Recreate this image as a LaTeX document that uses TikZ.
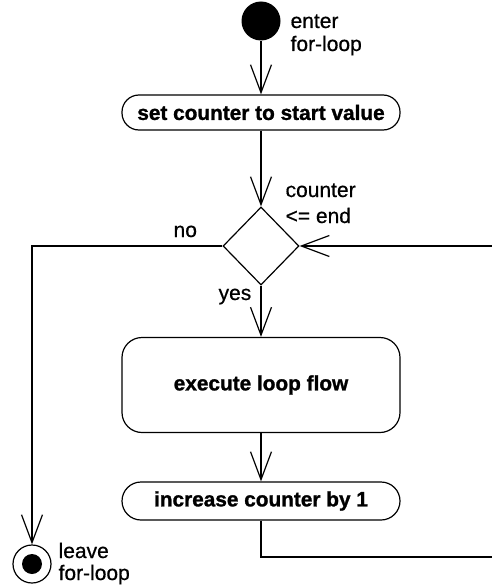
\documentclass[tikz,border=0pt]{standalone}
\usepackage{fontspec}
\setmainfont{Liberation Sans}
\newfontfamily\lblfont[FakeBold=0.6]{Liberation Sans}
\newfontfamily\boxfont[FakeBold=1.2]{Liberation Sans Bold}
\usetikzlibrary{arrows.meta,shapes.geometric}
\begin{document}
\begin{tikzpicture}[x=1pt,y=-1pt,line width=1.2pt,
  flow/.style={-{Straight Barb[length=28pt,width=21pt,line width=1.2pt]}},
  act/.style={draw,minimum width=278pt,inner sep=0pt,font=\boxfont\fontsize{20.8}{23}\selectfont},
  lbl/.style={anchor=base west,inner sep=0pt,font=\lblfont\fontsize{21}{23}\selectfont,align=left}]
\useasboundingbox (0,0) rectangle (491,586);
% nodes
\node[circle,fill,minimum size=39pt,inner sep=0pt] (start) at (261,21) {};
\node[act,rounded corners=17pt,minimum height=35pt] (b1) at (261,112.5) {set counter to start value};
\node[diamond,draw,minimum width=76pt,minimum height=78pt,inner sep=0pt] (dec) at (261,246) {};
\node[act,rounded corners=20pt,minimum height=95pt] (b2) at (261,385) {execute loop flow};
\node[act,rounded corners=19pt,minimum height=38pt] (b3) at (261,501) {increase counter by 1};
\node[circle,draw,minimum size=38pt,inner sep=0pt] (end) at (32,564) {};
\node[circle,fill,minimum size=20pt,inner sep=0pt] (endin) at (32,564) {};
\coordinate (r1) at (496,557);
\coordinate (r2) at (496,246);
% labels
\node[lbl] (lenter) at (290,28) {enter};
\node[lbl] (lenter2) at (290,51) {for-loop};
\node[lbl] (lcnt) at (285,197) {counter};
\node[lbl] (lcnt2) at (285,223) {<= end};
\node[lbl] (lno) at (173,237) {no};
\node[lbl] (lyes) at (218,300) {yes};
\node[lbl] (lleave) at (58,558) {leave};
\node[lbl] (lleave2) at (58,580) {for-loop};
% connectors
\draw[flow] (start) -- (b1);
\draw[flow] (b1) -- (dec);
\draw[flow] (dec) -- (b2);
\draw[flow] (b2) -- (b3);
\draw[flow] (b3.south) |- (r1) -- (r2) -- (dec.east);
\draw[flow] (dec.west) -| (end.north);
\end{tikzpicture}
\end{document}
